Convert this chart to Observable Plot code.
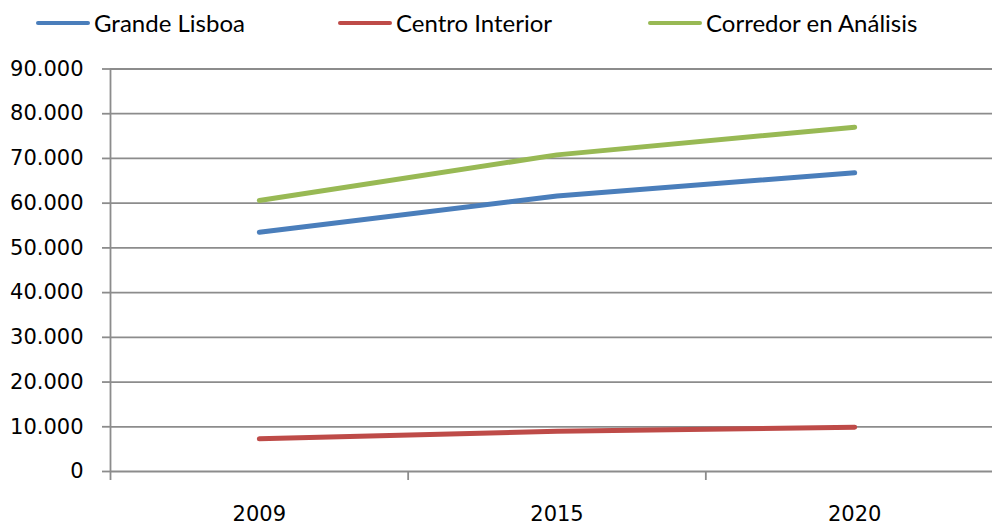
<!DOCTYPE html>
<html><head><meta charset="utf-8">
<script src="https://cdn.jsdelivr.net/npm/d3@7"></script>
<script src="https://cdn.jsdelivr.net/npm/@observablehq/plot@0.6"></script>
<style>
html,body{margin:0;padding:0;background:#fff;overflow:hidden;width:992px;height:526px}
#legend{position:relative;height:45px;font-family:Lato, sans-serif;font-size:24px;color:#000}
.item{position:absolute;top:0;height:45px;display:flex;align-items:center;white-space:nowrap}
.swatch{width:54px;height:4px;border-radius:2px;margin-right:4px}
</style></head><body>
<div id="legend"></div>
<div id="chart"></div>
<script>
const years = ["2009", "2015", "2020"];
const seriesNames = ["Grande Lisboa", "Centro Interior", "Corredor en Análisis"];
const grandeLisboa = [53500, 61600, 66800];
const centroInterior = [7300, 9000, 9900];
const corredor = [60600, 70800, 77000];
const colors = ["#4a7ebb", "#be4b48", "#98b954"];
const yTicks = [0, 10000, 20000, 30000, 40000, 50000, 60000, 70000, 80000, 90000];

const seriesValues = [grandeLisboa, centroInterior, corredor];
const data = seriesNames.flatMap((name, k) => seriesValues[k].map((v, i) => ({i, v, name})));
const boundaries = d3.range(years.length + 1).map(b => b - 0.5);
const positions = years.map((_, i) => i);
const fmt = d => d3.format(",")(d).replace(/,/g, ".");
const grid = "#8c8c8c";

// legend
const legendLeft = [36, 338, 648];
const legend = document.getElementById("legend");
seriesNames.forEach((name, k) => {
  const item = document.createElement("div");
  item.className = "item";
  item.style.left = legendLeft[k] + "px";
  const sw = document.createElement("span");
  sw.className = "swatch";
  sw.style.background = colors[k];
  const tx = document.createElement("span");
  tx.textContent = name;
  item.append(sw, tx);
  legend.append(item);
});

const chart = Plot.plot({
  width: 1004,
  height: 481,
  marginLeft: 110,
  marginRight: 1,
  marginTop: 23.5,
  marginBottom: 55,
  style: {fontFamily: "DejaVu Sans", fontSize: "21px", maxWidth: "none", background: "#fff", color: "#000"},
  x: {type: "linear", domain: [-0.5, years.length - 0.5], axis: null},
  y: {domain: [0, 90000], axis: null},
  color: {domain: seriesNames, range: colors},
  marks: [
    Plot.ruleY(yTicks, {stroke: grid, strokeWidth: 1.8}),
    Plot.ruleX([-0.5], {y1: 0, y2: 90000, stroke: grid, strokeWidth: 1.8}),
    Plot.axisY(yTicks, {label: null, tickSize: 8, tickPadding: 19, tickFormat: fmt, stroke: grid, strokeWidth: 1.8, fill: "#000", fontSize: 21}),
    Plot.axisX(boundaries, {label: null, tickSize: 9, tickFormat: () => "", stroke: grid, strokeWidth: 1.8}),
    Plot.axisX(positions, {label: null, tickSize: 0, tickPadding: 35, tickFormat: i => years[i], fill: "#000", fontSize: 21}),
    Plot.line(data, {x: "i", y: "v", z: "name", stroke: "name", strokeWidth: 5, strokeLinecap: "round", strokeLinejoin: "round"})
  ]
});
document.getElementById("chart").append(chart);
</script>
</body></html>
